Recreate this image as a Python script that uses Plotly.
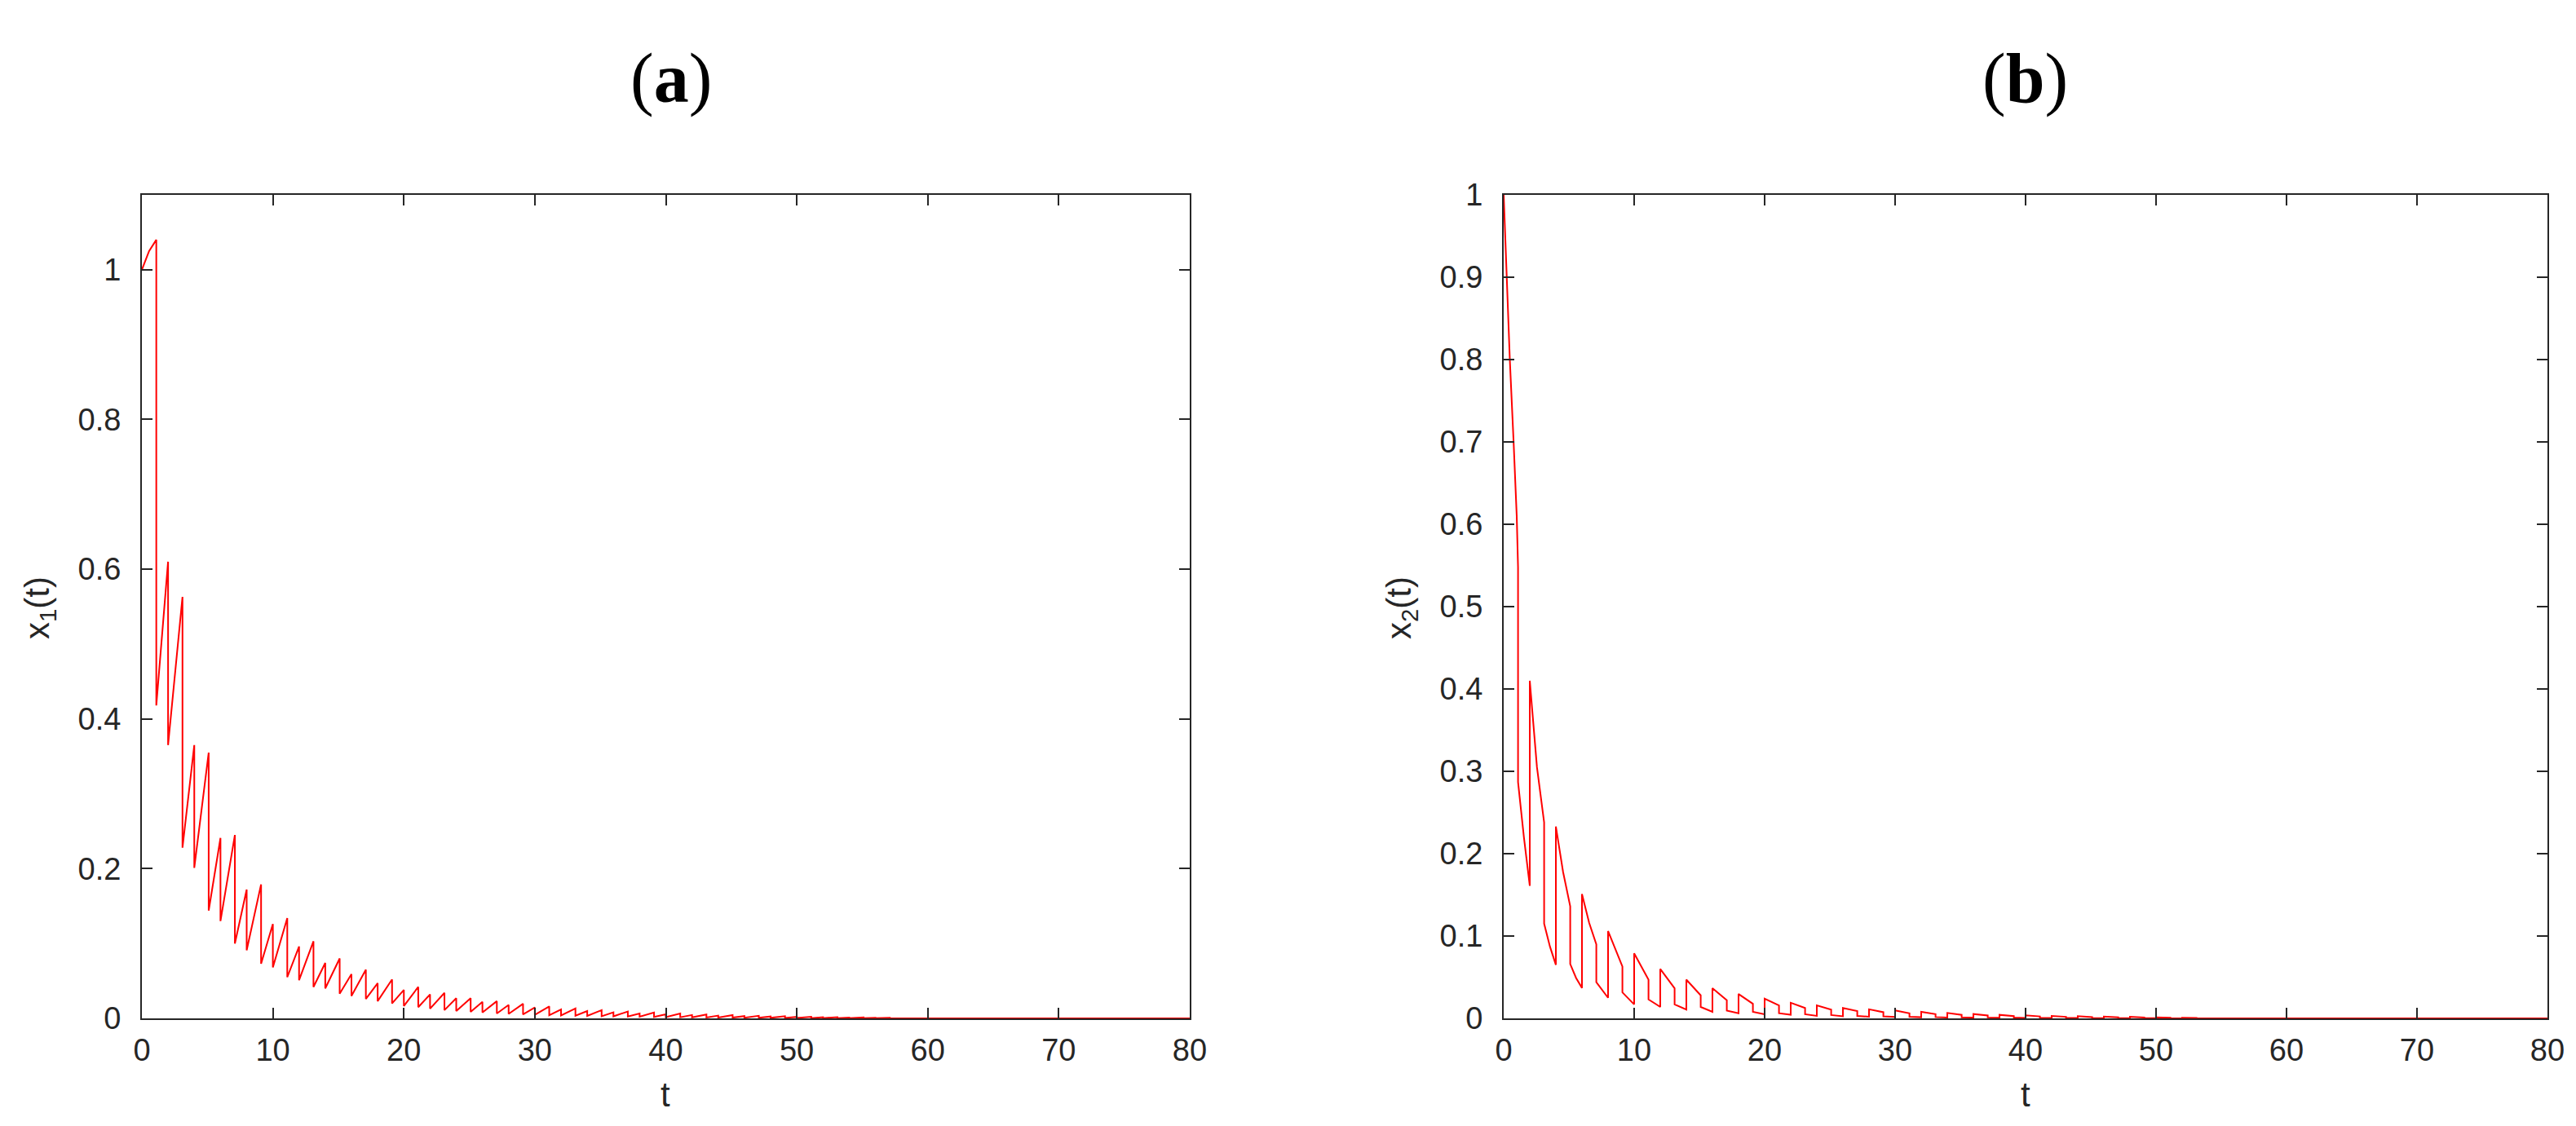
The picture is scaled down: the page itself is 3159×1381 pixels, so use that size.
import plotly.graph_objects as go

W, H = 3159, 1381

# ---------------- data ----------------
# Panel (a): x1(t) — rising sawtooth with downward impulses
a_head_t = [0.0, 0.55]
a_head_v = [1.0, 1.025]
a_jump_t = [1.1, 2.0, 3.1, 4.0, 5.1, 6.0, 7.1, 8.0, 9.1, 10.0,
            11.1, 12.0, 13.1, 14.0, 15.1, 16.0, 17.1, 18.0, 19.1, 20.0,
            21.1, 22.0, 23.1, 24.0, 25.1, 26.0, 27.1, 28.0, 29.1, 30.0,
            31.1, 32.0, 33.1, 34.0, 35.1, 36.0, 37.1, 38.0, 39.1, 40.0,
            41.1, 42.0, 43.1, 44.0, 45.1, 46.0, 47.1, 48.0, 49.1, 50.0,
            51.1, 52.0, 53.1, 54.0, 55.1, 56.0, 57.1]
a_before = [1.04, 0.610, 0.563, 0.365, 0.355, 0.241, 0.245, 0.172, 0.179, 0.126,
            0.134, 0.096, 0.103, 0.074, 0.080, 0.059, 0.065, 0.047, 0.052, 0.038,
            0.042, 0.032, 0.034, 0.027, 0.027, 0.022, 0.023, 0.018, 0.0195, 0.0145,
            0.0160, 0.0118, 0.0132, 0.0098, 0.0110, 0.0080, 0.0092, 0.0066, 0.0078, 0.0055,
            0.0066, 0.0045, 0.0052, 0.0037, 0.0043, 0.0030, 0.0035, 0.0025, 0.0029, 0.0020,
            0.0022, 0.0015, 0.0016, 0.0011, 0.0012, 0.0008, 0.0008]
a_after = [0.418, 0.365, 0.228, 0.201, 0.144, 0.130, 0.100, 0.091, 0.073, 0.068,
           0.055, 0.051, 0.042, 0.040, 0.033, 0.030, 0.026, 0.023, 0.020, 0.0165,
           0.015, 0.013, 0.011, 0.0099, 0.0086, 0.0079, 0.0066, 0.0060, 0.0052, 0.0048,
           0.0042, 0.0040, 0.0035, 0.0033, 0.0029, 0.0027, 0.0024, 0.0022, 0.0019, 0.0018,
           0.0015, 0.0014, 0.0012, 0.0011, 0.0010, 0.0009, 0.0008, 0.0007, 0.0006, 0.0005,
           0.0004, 0.0004, 0.0003, 0.0003, 0.0002, 0.0002, 0.0001]
a_tail_t = [60.0, 80.0]
a_tail_v = [0.0, 0.0]

# Panel (b): x2(t) — decaying segments, drops at odd impulses, rises at even ones
b_head_t = [0.0, 0.22, 0.47, 0.76, 1.0]
b_head_v = [1.0, 0.9, 0.8, 0.7, 0.61]
b_jump_t = [1.1, 2.0, 3.1, 4.0, 5.1, 6.0, 7.1, 8.0, 9.1, 10.0,
            11.1, 12.0, 13.1, 14.0, 15.1, 16.0, 17.1, 18.0, 19.1, 20.0,
            21.1, 22.0, 23.1, 24.0, 25.1, 26.0, 27.1, 28.0, 29.1, 30.0,
            31.1, 32.0, 33.1, 34.0, 35.1, 36.0, 37.1, 38.0, 39.1, 40.0,
            41.1, 42.0, 43.1, 44.0, 45.1, 46.0, 47.1, 48.0, 49.1, 50.0,
            51.1, 52.0, 53.1]
b_before = [0.548, 0.161, 0.238, 0.065, 0.136, 0.037, 0.090, 0.025, 0.063, 0.017,
            0.047, 0.0139, 0.0366, 0.0107, 0.028, 0.008, 0.022, 0.0063, 0.0177, 0.005,
            0.0158, 0.0044, 0.0126, 0.0030, 0.0107, 0.0025, 0.0088, 0.0020, 0.0075, 0.0017,
            0.0062, 0.0014, 0.0052, 0.0011, 0.0043, 0.0009, 0.0035, 0.0007, 0.0028, 0.0006,
            0.0024, 0.0005, 0.0019, 0.0004, 0.0016, 0.0003, 0.0013, 0.0003, 0.0011, 0.0002,
            0.0007, 0.0001, 0.0004]
b_after = [0.287, 0.410, 0.115, 0.233, 0.066, 0.151, 0.044, 0.106, 0.0315, 0.079,
           0.023, 0.060, 0.017, 0.047, 0.0139, 0.0366, 0.0095, 0.0296, 0.008, 0.024,
           0.0063, 0.019, 0.005, 0.0158, 0.004, 0.0126, 0.0030, 0.0110, 0.0025, 0.0096,
           0.0020, 0.0080, 0.0016, 0.0066, 0.0013, 0.0053, 0.0011, 0.0043, 0.0009, 0.0037,
           0.0007, 0.0030, 0.0006, 0.0026, 0.0005, 0.0022, 0.0004, 0.0019, 0.0003, 0.0013,
           0.0002, 0.0008, 0.0001]
b_mid_t = [1.55, 2.55, 3.55, 4.55, 5.55, 6.55]
b_mid_v = [0.220, 0.305, 0.087, 0.178, 0.049, 0.116]
b_tail_t = [60.0, 80.0]
b_tail_v = [0.0, 0.0]

x_ticks = [0, 10, 20, 30, 40, 50, 60, 70, 80]
a_yticks = [0, 0.2, 0.4, 0.6, 0.8, 1]
b_yticks = [0, 0.1, 0.2, 0.3, 0.4, 0.5, 0.6, 0.7, 0.8, 0.9, 1]


def build(head_t, head_v, jt, before, after, tail_t, tail_v, mid_t=(), mid_v=()):
    ts, vs = list(head_t), list(head_v)
    for k, t in enumerate(jt):
        ts += [t, t]
        vs += [before[k], after[k]]
        nxt = jt[k + 1] if k + 1 < len(jt) else tail_t[0]
        for mt, mv in zip(mid_t, mid_v):
            if t < mt < nxt:
                ts.append(mt)
                vs.append(mv)
    ts += list(tail_t)
    vs += list(tail_v)
    return ts, vs


ta, va = build(a_head_t, a_head_v, a_jump_t, a_before, a_after, a_tail_t, a_tail_v)
tb, vb = build(b_head_t, b_head_v, b_jump_t, b_before, b_after, b_tail_t, b_tail_v,
               b_mid_t, b_mid_v)

# ---------------- layout geometry ----------------
def px_x(p):
    return p / W


def px_y(p):
    return 1 - p / H


AX = "#262626"
RED = "#ff0000"
FONT = "Liberation Sans, Arial, Helvetica, sans-serif"
TICKFS = 38
LABFS = 42

fig = go.Figure()
fig.add_trace(go.Scatter(x=ta, y=va, mode="lines", line=dict(color=RED, width=2),
                         xaxis="x", yaxis="y", showlegend=False, hoverinfo="skip"))
fig.add_trace(go.Scatter(x=tb, y=vb, mode="lines", line=dict(color=RED, width=2),
                         xaxis="x2", yaxis="y2", showlegend=False, hoverinfo="skip"))

common = dict(showgrid=False, zeroline=False, showline=True, linecolor=AX, linewidth=2,
              mirror="ticks", ticks="inside", ticklen=13, tickwidth=2, tickcolor=AX,
              tickfont=dict(family=FONT, size=TICKFS, color=AX), automargin=False,
              fixedrange=True)

y_dom = [px_y(1241), px_y(231)]

fig.update_layout(
    width=W, height=H,
    margin=dict(l=0, r=0, t=0, b=0, pad=0),
    paper_bgcolor="white", plot_bgcolor="white",
    showlegend=False,
    xaxis=dict(domain=[px_x(166), px_x(1451)], range=[0, 80], tickvals=x_ticks,
               anchor="y", ticklabelstandoff=4, **common),
    yaxis=dict(domain=y_dom, range=[0, 1.1], tickvals=a_yticks, anchor="x",
               ticklabelstandoff=16, **common),
    xaxis2=dict(domain=[px_x(1836), px_x(3116)], range=[0, 80], tickvals=x_ticks,
                anchor="y2", ticklabelstandoff=4, **common),
    yaxis2=dict(domain=y_dom, range=[0, 1], tickvals=b_yticks, anchor="x2",
                ticklabelstandoff=16, **common),
)

ann = []
# panel titles
for cx, letter in [(815, "a"), (2475, "b")]:
    ann.append(dict(x=px_x(cx), y=px_y(88), xref="paper", yref="paper",
                    text="(<b>%s</b>)" % letter, showarrow=False,
                    xanchor="center", yanchor="middle",
                    font=dict(family="Liberation Serif, Times New Roman, serif",
                              size=86, color="black")))
# x-axis titles
for cx in [808, 2476]:
    ann.append(dict(x=px_x(cx), y=px_y(1334), xref="paper", yref="paper", text="t",
                    showarrow=False, xanchor="center", yanchor="middle",
                    font=dict(family=FONT, size=LABFS, color=AX)))
# y-axis titles
for cx, sub in [(40, "1"), (1710, "2")]:
    ann.append(dict(x=px_x(cx), y=px_y(738), xref="paper", yref="paper",
                    text="x<sub>%s</sub>(t)" % sub, textangle=-90, showarrow=False,
                    xanchor="center", yanchor="middle",
                    font=dict(family=FONT, size=LABFS, color=AX)))
fig.update_layout(annotations=ann)

fig.write_html("out.html")
